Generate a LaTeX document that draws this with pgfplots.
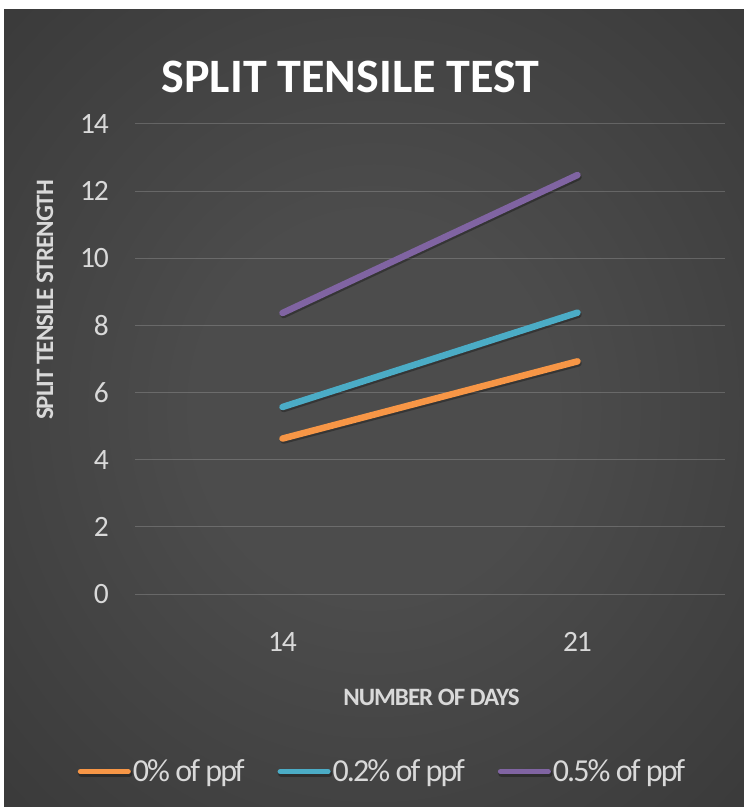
\documentclass[border=0pt]{standalone}
\usepackage{pgfplots}
\pgfplotsset{compat=1.18}
\usepackage{fontspec}
\setmainfont{Carlito}
\newfontfamily\condfont[LetterSpace=-4]{Carlito}
\newfontfamily\legfont[LetterSpace=-6]{Carlito}
\definecolor{bgin}{HTML}{4C4C4C}
\definecolor{bgout}{HTML}{1C1C1C}
\definecolor{cor}{HTML}{F79646}
\definecolor{cte}{HTML}{4BACC6}
\definecolor{cpu}{HTML}{8064A2}
\definecolor{lbl}{HTML}{D9D9D9}
\pgfdeclareradialshading{bgshade}{\pgfpoint{0bp}{0bp}}{color(0bp)=(bgin); color(12bp)=(bgin); color(76bp)=(bgout)}
\begin{document}
\begin{tikzpicture}
\useasboundingbox (0pt,0pt) rectangle (744pt,807pt);
\fill[white] (0pt,0pt) rectangle (744pt,807pt);
\shade[shading=bgshade] (4pt,0pt) rectangle (744pt,797pt);
\begin{axis}[
  at={(135pt,213pt)}, anchor=south west, scale only axis,
  width=590pt, height=470pt,
  xmin=-0.5, xmax=1.5, ymin=0, ymax=14,
  xtick={0,1}, xticklabels={14,21}, ytick={0,2,...,14},
  axis line style={draw=none}, major tick length=0pt,
  ymajorgrids, grid style={draw=white, opacity=0.18, line width=1pt},
  /pgf/number format/assume math mode=true,
  tick label style={font=\condfont\fontsize{29.5}{34}\selectfont, text=lbl},
  yticklabel style={anchor=east, inner sep=0pt, xshift=-26pt},
  xticklabel style={anchor=north, inner sep=0pt, yshift=-38pt},
  clip=false,
  legend style={at={(0.4195,-0.378)}, anchor=center, draw=none, fill=none,
    legend columns=3, font=\legfont\fontsize{32}{36}\selectfont, text=lbl,
    nodes={inner xsep=2pt},
    /tikz/every even column/.append style={column sep=31pt}, inner sep=0pt},
  legend image code/.code={\draw[#1, line width=5pt, line cap=round] (0pt,0pt) -- (48pt,0pt);},
]
\addplot[cor, line width=6.5pt, line cap=round,
  preaction={draw=black, opacity=0.3, transform canvas={xshift=1pt,yshift=-2pt}}]
  coordinates {(0,4.63) (1,6.93)};
\addlegendentry{0\% of ppf}
\addplot[cte, line width=6.5pt, line cap=round,
  preaction={draw=black, opacity=0.3, transform canvas={xshift=1pt,yshift=-2pt}}]
  coordinates {(0,5.57) (1,8.38)};
\addlegendentry{0.2\% of ppf}
\addplot[cpu, line width=6.5pt, line cap=round,
  preaction={draw=black, opacity=0.3, transform canvas={xshift=1pt,yshift=-2pt}}]
  coordinates {(0,8.37) (1,12.48)};
\addlegendentry{0.5\% of ppf}
\end{axis}
\node[text=white, font=\bfseries\fontsize{48}{56}\selectfont] at (350.5pt,730pt) {SPLIT TENSILE TEST};
\node[text=lbl, font=\bfseries\condfont\fontsize{25}{30}\selectfont] at (431.5pt,110pt) {NUMBER OF DAYS};
\node[text=lbl, rotate=90, font=\bfseries\condfont\fontsize{25}{30}\selectfont] at (45pt,507pt) {SPLIT TENSILE STRENGTH};
\end{tikzpicture}
\end{document}
